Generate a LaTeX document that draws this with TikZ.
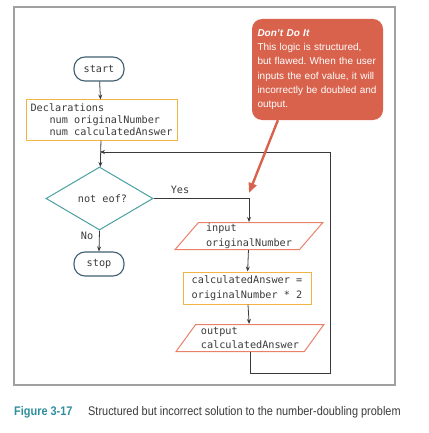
\documentclass[tikz,border=0pt]{standalone}
\usepackage{fontspec}
\setmonofont{DejaVu Sans Mono}
\newfontfamily\notefont{Liberation Sans}
\newfontfamily\capfont[FakeStretch=0.875]{Liberation Sans}
\usetikzlibrary{shapes.geometric, arrows.meta}
\definecolor{termcol}{HTML}{3F5F70}
\definecolor{deccol}{HTML}{4AA0A0}
\definecolor{proccol}{HTML}{F2B544}
\definecolor{iocol}{HTML}{E8806A}
\definecolor{notecol}{HTML}{D9624C}
\definecolor{linecol}{HTML}{3A3A3A}
\definecolor{framecol}{HTML}{A0A0A0}
\definecolor{figcol}{HTML}{2F8E9E}

\begin{document}
\begin{tikzpicture}[x=1pt, y=-1pt, text=linecol,
  font=\ttfamily\fontsize{10.2}{12}\selectfont,
  term/.style={rectangle, rounded corners=11pt, draw=termcol, line width=1.1pt, minimum width=50pt, minimum height=24pt},
  decide/.style={diamond, draw=deccol, line width=1pt, minimum width=107pt, minimum height=63pt, inner sep=0pt},
  proc/.style={rectangle, draw=proccol, line width=1pt, align=left, inner sep=0pt},
  io/.style={trapezium, trapezium left angle=51, trapezium right angle=129, trapezium stretches=true, draw=iocol, line width=1pt, minimum width=148pt, minimum height=27pt, align=left, inner sep=0pt, font=\ttfamily\fontsize{10.2}{14.5}\selectfont},
  flow/.style={draw=linecol, line width=0.8pt, -{Stealth[length=5pt, width=4pt]}}]
\useasboundingbox (0,0) rectangle (428,433);

% frame
\draw[framecol, line width=1.2pt] (14,7) rectangle (395,385);

\node[term] (start) at (99,69) {start};
\node[proc, minimum width=151pt, minimum height=40pt] (decl) at (101.5,120) {Declarations\\\hspace*{19pt}num originalNumber\\\hspace*{19pt}num calculatedAnswer};
\node[decide] (eof) at (99.5,198.5) {\hspace*{6pt}not eof?};
\node[term] (stop) at (99,264) {stop};
\node[io] (inp) at (249,236) {input\\originalNumber};
\node[proc, minimum width=128pt, minimum height=32pt, font=\ttfamily\fontsize{10.2}{14.5}\selectfont] (calc) at (247,288) {calculatedAnswer =\\originalNumber * 2};
\node[io] (outp) at (250,338) {output\\calculatedAnswer};

\coordinate (merge) at (100,152);
\coordinate (loopend) at (330,373);

\draw[flow] (start) -- (decl);
\draw[flow] (decl) -- (eof);
\draw[flow] (eof.east) -| (inp.north);
\draw[flow] (eof.south) -- (stop.north);
\draw[flow] (inp) -- (calc);
\draw[flow] (calc) -- (outp);
\draw[flow] (outp.south) |- (loopend) |- (merge);

\node (yes) at (180,190) {Yes};
\node (no) at (87,236) {No};

% callout
\node[rectangle, rounded corners=10pt, fill=notecol, minimum width=131pt, minimum height=101pt, text width=120pt, inner sep=5.5pt, align=left, text=white, font=\notefont\frenchspacing\fontsize{10}{14.3}\selectfont] (note) at (317.5,69.5)
  {{\bfseries\itshape Don’t Do It}\\This logic is structured,\\but flawed. When the user\\inputs the eof value, it will\\incorrectly be doubled and\\output.};
\coordinate (notetip) at (249,193);
\draw[notecol, line width=2.4pt, -{Triangle[length=10pt, width=8pt]}] (note.232) -- (notetip);

% caption
\node[anchor=base west, inner sep=0pt, text=figcol, font=\capfont\bfseries\fontsize{12.5}{14}\selectfont] (fignum) at (14,415) {Figure 3-17};
\node[anchor=base west, inner sep=0pt, font=\capfont\fontsize{12.5}{14}\selectfont] (figtext) at (88,415) {Structured but incorrect solution to the number-doubling problem};
\end{tikzpicture}
\end{document}
